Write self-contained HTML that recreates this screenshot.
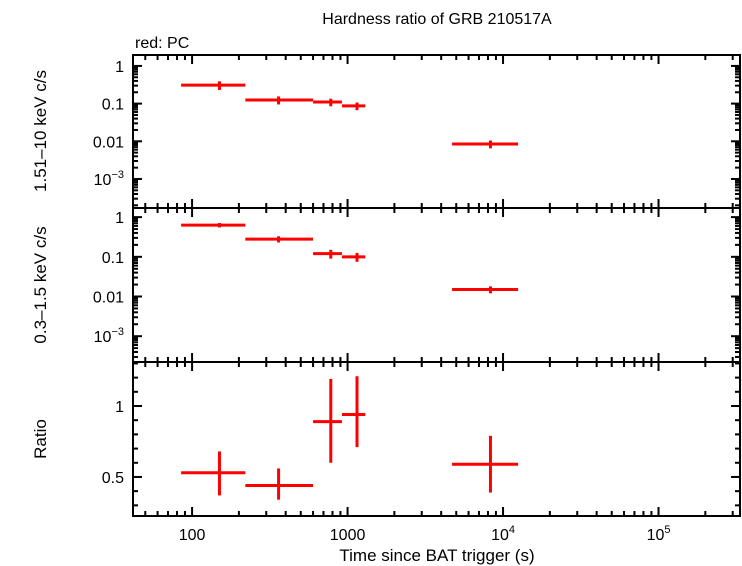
<!DOCTYPE html>
<html><head><meta charset="utf-8"><style>
body{margin:0;background:#fff;}
svg{display:block;font-family:"Liberation Sans",sans-serif;}
</style></head><body>
<svg id="c" width="742" height="566"></svg>
<script>
const binLo=[85,220,600,920,4700];
const binHi=[220,600,920,1300,12500];
const tMid=[150,360,780,1150,8300];
const hardVal=[0.31,0.125,0.11,0.087,0.0085];
const hardErr=[0.08,0.03,0.025,0.02,0.002];
const softVal=[0.63,0.28,0.12,0.10,0.015];
const softErr=[0.08,0.05,0.03,0.025,0.003];
const ratioVal=[0.53,0.44,0.89,0.94,0.59];
const ratioLo=[0.16,0.10,0.29,0.23,0.20];
const ratioHi=[0.15,0.12,0.30,0.27,0.20];
const xTicks=[100,1000,10000,100000];
const xTickLabels=["100","1000","10^4","10^5"];
const logTicks=[1,0.1,0.01,0.001];
const logTickLabels=["1","0.1","0.01","10^-3"];
const ratioTicks=[0.5,1];
const ratioTickLabels=["0.5","1"];

const NS="http://www.w3.org/2000/svg";
const svg=document.getElementById('c');
function el(t,a,p){const e=document.createElementNS(NS,t);for(const k in a)e.setAttribute(k,a[k]);(p||svg).appendChild(e);return e;}
const L=133,R=740;
const xLogMin=1.62,xLogMax=5.524;
function X(v){return L+(Math.log10(v)-xLogMin)/(xLogMax-xLogMin)*(R-L);}
const panels=[
 {top:55,bot:208,type:'log',min:-3.77,max:0.29,name:'hard-panel'},
 {top:208,bot:362,type:'log',min:-3.65,max:0.23,name:'soft-panel'},
 {top:362,bot:516,type:'lin',min:0.225,max:1.31,name:'ratio-panel'}];
function Y(p,v){const t=p.type==='log'?Math.log10(v):v;return p.bot-(t-p.min)/(p.max-p.min)*(p.bot-p.top);}
function supLabel(txt,x,y,anchor,name){
  const t=el('text',{x:x,y:y,'text-anchor':anchor,'font-size':16});
  
  
  const parts=txt.split('^');
  t.textContent=parts[0];
  if(parts[1]){const s=el('tspan',{dy:-7,'font-size':11},t);s.textContent=parts[1].replace('-','\u2212');}
  return t;
}
const t=el('text',{x:437,y:24,'text-anchor':'middle','font-size':16});t.textContent='Hardness ratio of GRB 210517A';

const t2=el('text',{x:135,y:48,'font-size':16});t2.textContent='red: PC';


panels.forEach((p,pi)=>{
  const g=el('g',{});
  
  for(let d=1;d<=6;d++)for(let m=1;m<=9;m++){const v=m*Math.pow(10,d);const x=X(v);if(x<L||x>R)continue;
    const len=m===1?9:5;
    el('line',{x1:x,x2:x,y1:p.bot,y2:p.bot-len,stroke:'#000','stroke-width':2},g);
    el('line',{x1:x,x2:x,y1:p.top,y2:p.top+len,stroke:'#000','stroke-width':2},g);}
  if(p.type==='log'){
    for(let d=-4;d<=1;d++)for(let m=1;m<=9;m++){const v=m*Math.pow(10,d);const lv=Math.log10(v);if(lv<p.min||lv>p.max)continue;const y=Y(p,v);
      const len=m===1?9:5;
      el('line',{x1:L,x2:L+len,y1:y,y2:y,stroke:'#000','stroke-width':2},g);
      el('line',{x1:R,x2:R-len,y1:y,y2:y,stroke:'#000','stroke-width':2},g);}
    logTicks.forEach((v,i)=>supLabel(logTickLabels[i],124,Y(p,v)+6,'end','y-tick-label'));
  } else {
    for(let v=0.3;v<=1.31;v+=0.1){const y=Y(p,v);const len=(Math.abs(v-0.5)<1e-6||Math.abs(v-1)<1e-6)?9:5;
      el('line',{x1:L,x2:L+len,y1:y,y2:y,stroke:'#000','stroke-width':2},g);
      el('line',{x1:R,x2:R-len,y1:y,y2:y,stroke:'#000','stroke-width':2},g);}
    ratioTicks.forEach((v,i)=>supLabel(ratioTickLabels[i],124,Y(p,v)+6,'end','y-tick-label'));
  }
  el('rect',{x:L,y:p.top,width:R-L,height:p.bot-p.top,fill:'none',stroke:'#000','stroke-width':2},g);
  for(let i=0;i<tMid.length;i++){
    let v,lo,hi;
    if(pi===0){v=hardVal[i];lo=v-hardErr[i];hi=v+hardErr[i];}
    else if(pi===1){v=softVal[i];lo=v-softErr[i];hi=v+softErr[i];}
    else {v=ratioVal[i];lo=v-ratioLo[i];hi=v+ratioHi[i];}
    const pt=el('g',{},g);
    
    el('line',{x1:X(binLo[i]),x2:X(binHi[i]),y1:Y(p,v),y2:Y(p,v),stroke:'#f00','stroke-width':3},pt);
    el('line',{x1:X(tMid[i]),x2:X(tMid[i]),y1:Y(p,lo),y2:Y(p,hi),stroke:'#f00','stroke-width':3},pt);
  }
});
xTicks.forEach((v,i)=>supLabel(xTickLabels[i],X(v),540,'middle','x-tick-label'));
const xt=el('text',{x:437,y:561,'text-anchor':'middle','font-size':17});xt.textContent='Time since BAT trigger (s)';

[['1.51\u201310 keV c/s',131,'y-axis-title-hard'],['0.3\u20131.5 keV c/s',285,'y-axis-title-soft'],['Ratio',439,'y-axis-title-ratio']].forEach(a=>{
  const e=el('text',{x:0,y:0,'text-anchor':'middle','font-size':17,transform:`translate(46,${a[1]}) rotate(-90)`});
  e.textContent=a[0];
  
});
</script>
</body></html>
